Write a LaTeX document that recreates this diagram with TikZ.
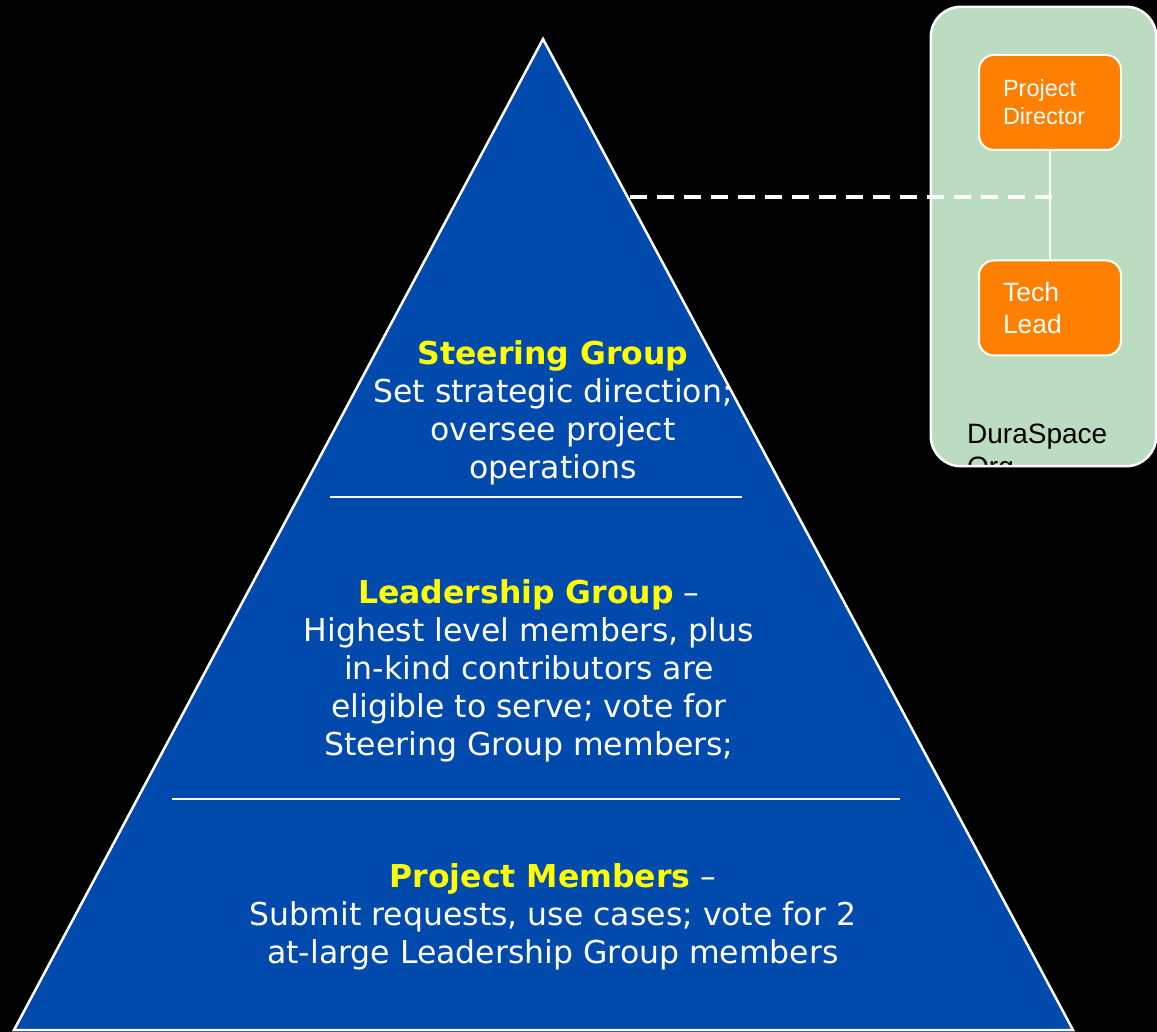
\documentclass[tikz,border=0pt]{standalone}
\usepackage{fontspec}
\setmainfont{DejaVu Sans}
\newfontfamily\arialf{Liberation Sans}
\definecolor{triblue}{RGB}{0,74,173}
\definecolor{orgbg}{RGB}{187,220,192}
\definecolor{orgorange}{RGB}{255,127,0}
\definecolor{ttlyellow}{RGB}{255,255,0}
\begin{document}
\begin{tikzpicture}[x=1pt,y=-1pt,
  tiertext/.style={text=white, align=center, inner sep=0pt,
    font=\fontsize{31.5}{38}\selectfont},
  divider/.style={draw=white, line width=2pt},
  rolebox/.style={draw=white, line width=2pt, fill=orgorange, rounded corners=15pt,
    minimum width=142pt, minimum height=95pt, text width=94pt, inner xsep=24pt,
    align=left, text=white},
  link/.style={draw=white, line width=1.5pt},
  dashlink/.style={draw=white, line width=3.5pt, dash pattern=on 17pt off 10pt}]
\useasboundingbox[fill=black] (0,0) rectangle (1157,1032);

% pyramid
\coordinate (apex) at (543,39);
\coordinate (bl) at (14,1030);
\coordinate (br) at (1073,1030);
\fill[triblue] (apex) -- (bl) -- (br) -- cycle;

% dividers
\coordinate (d1l) at (330,497); \coordinate (d1r) at (742,497);
\coordinate (d2l) at (172,799); \coordinate (d2r) at (900,799);
\draw[divider] (d1l) -- (d1r);
\draw[divider] (d2l) -- (d2r);

% tier texts
\node[tiertext] (steer) at (553,413) {{\bfseries\color{ttlyellow}Steering Group}\\Set strategic direction;\\oversee project\\operations};
\node[tiertext] (lead) at (529,671) {{\bfseries\color{ttlyellow}Leadership Group} –\\Highest level members, plus\\in-kind contributors are\\eligible to serve; vote for\\Steering Group members;};
\node[tiertext] (memb) at (553,917) {{\bfseries\color{ttlyellow}Project Members} –\\Submit requests, use cases; vote for 2\\at-large Leadership Group members};

\draw[white, line width=2.5pt, line join=miter] (apex) -- (bl) -- (br) -- cycle;

% DuraSpace org box
\node[fill=orgbg, rounded corners=30pt, minimum width=225pt, minimum height=459pt, inner sep=0pt] (org) at (1043.5,236.5) {};
\begin{scope}
  \clip[rounded corners=30pt] (931,7) rectangle (1156,466);
  \node[anchor=base west, inner sep=0pt, align=left, text=black,
    font=\arialf\fontsize{28}{33}\selectfont] (orgname) at (967,476) {DuraSpace\\Org};
\end{scope}
\draw[white, line width=2.5pt, rounded corners=30pt] (org.north west) rectangle (org.south east);

\node[rolebox, font=\arialf\fontsize{23.5}{28}\selectfont] (pd) at (1050,102.5) {Project\\Director};
\node[rolebox, font=\arialf\fontsize{26.5}{32}\selectfont] (tl) at (1050,308) {Tech\\Lead};
\draw[link] (pd.south) -- (tl.north);

% dashed connector
\coordinate (dstart) at (630,197);
\coordinate (dend) at (1058,197);
\draw[dashlink] (dstart) -- (dend);
\end{tikzpicture}
\end{document}
